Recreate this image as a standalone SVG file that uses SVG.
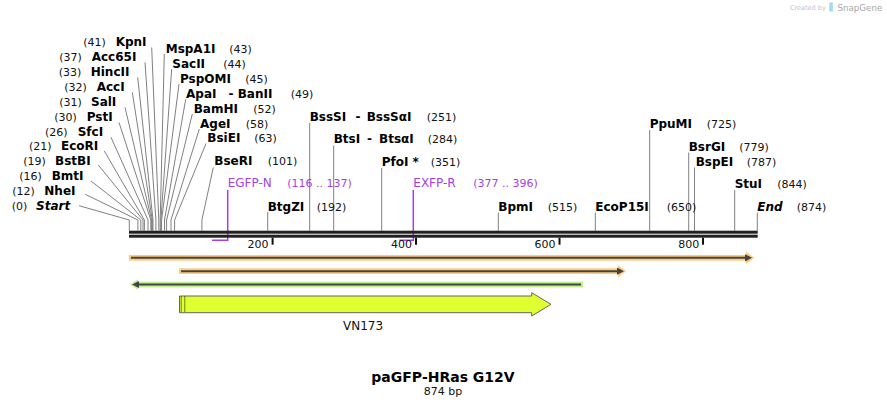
<svg xmlns="http://www.w3.org/2000/svg" width="887" height="407" viewBox="0 0 887 407">
<style>
.en{font-family:"DejaVu Sans",Verdana,sans-serif;font-size:12px;font-weight:bold;fill:#000}
.it{font-style:italic}
.num{font-family:"DejaVu Sans",Verdana,sans-serif;font-size:11px;fill:#111}
.pr{font-family:"DejaVu Sans",Verdana,sans-serif;font-size:12px;fill:#a23fe8}
.prn{font-family:"DejaVu Sans",Verdana,sans-serif;font-size:11px;fill:#a23fe8}
.cut{stroke:#808080;stroke-width:1;fill:none}
.prl{stroke:#a23fe8;stroke-width:1.5;fill:none}
.tick{fill:#111}
.tl{font-family:"DejaVu Sans",Verdana,sans-serif;font-size:11px;fill:#111;text-anchor:end}
.dark{stroke:#444;stroke-width:2;fill:none}
</style>
<rect width="887" height="407" fill="#fff"/>

<g id="watermark">
<text x="790" y="9.5" font-family="DejaVu Sans,sans-serif" font-size="6.5" fill="#c4c4c4">Created by</text>
<path d="M829.3,2.5 h3.5 v9 h-3.5 z" fill="#a6d6f2"/>
<text x="837.5" y="10.5" font-family="DejaVu Sans,sans-serif" font-size="8.7" fill="#a8a8a8">SnapGene</text>
</g>

<g id="connectors">
<path class="cut" d="M151.7,47.5 L158.8,220 V230.7"/>
<path class="cut" d="M145,62.3 L155.9,220 V230.7"/>
<path class="cut" d="M137.7,77.3 L153,220 V230.7"/>
<path class="cut" d="M132.3,92.3 L152.3,220 V230.7"/>
<path class="cut" d="M125,107.3 L151.6,220 V230.7"/>
<path class="cut" d="M119,122.5 L150.8,220 V230.7"/>
<path class="cut" d="M111,137.3 L148,220 V230.7"/>
<path class="cut" d="M104.3,151 L144.4,220 V230.7"/>
<path class="cut" d="M98.3,165 L143,220 V230.7"/>
<path class="cut" d="M91,181 L140.8,220 V230.7"/>
<path class="cut" d="M85.3,194.3 L137.9,220 V230.7"/>
<path class="cut" d="M79,205.7 L129.3,220 V230.7"/>
<path class="cut" d="M164.3,54 L160.2,220 V230.7"/>
<path class="cut" d="M171.7,69 L160.9,220 V230.7"/>
<path class="cut" d="M179,84 L161.6,220 V230.7"/>
<path class="cut" d="M185.7,99.3 L164.5,220 V230.7"/>
<path class="cut" d="M192.3,114 L166.6,220 V230.7"/>
<path class="cut" d="M199.3,129 L171,220 V230.7"/>
<path class="cut" d="M206,143.5 L174.6,220 V230.7"/>
<path class="cut" d="M213.3,167.5 L201.9,220 V230.7"/>
<path class="cut" d="M267.7,212 V230.7"/>
<path class="cut" d="M309.7,123 V230.7"/>
<path class="cut" d="M333.7,145.5 V230.7"/>
<path class="cut" d="M381.7,168 V230.7"/>
<path class="cut" d="M498.3,212.5 V230.7"/>
<path class="cut" d="M595.3,212.5 V230.7"/>
<path class="cut" d="M649.7,130 V230.7"/>
<path class="cut" d="M688.7,152.5 V230.7"/>
<path class="cut" d="M694.5,167.5 V230.7" stroke="#a0a0a0"/>
<path class="cut" d="M734.7,190 V230.7"/>
<path class="cut" d="M757.3,212.5 V230.7"/>
<path class="prl" d="M227.7,190 V240.2 H212"/>
<path class="prl" d="M413.3,190 V240.2 H399.3"/>
</g>

<g id="backbone">
<rect x="129" y="230.7" width="628.7" height="3" fill="#222"/>
<rect x="129" y="234.7" width="628.7" height="3" fill="#222"/>
<rect class="tick" x="271.6" y="237.7" width="2" height="7"/>
<rect class="tick" x="415" y="237.7" width="2" height="7"/>
<rect class="tick" x="558.5" y="237.7" width="2" height="7"/>
<rect class="tick" x="702" y="237.7" width="2" height="7"/>
<text class="tl" x="268.6" y="247.7">200</text>
<text class="tl" x="412" y="247.7">400</text>
<text class="tl" x="555.6" y="247.7">600</text>
<text class="tl" x="699.2" y="247.7">800</text>
</g>

<g id="site-KpnI"><text class="num" x="83.3" y="45.7">(41)</text><text class="en" x="115.7" y="45.7">KpnI</text></g>
<g id="site-Acc65I"><text class="num" x="59.3" y="60.7">(37)</text><text class="en" x="91.7" y="60.7">Acc65I</text></g>
<g id="site-HincII"><text class="num" x="58.7" y="75.7">(33)</text><text class="en" x="90.7" y="75.7">HincII</text></g>
<g id="site-AccI"><text class="num" x="64.3" y="90.7">(32)</text><text class="en" x="96.7" y="90.7">AccI</text></g>
<g id="site-SalI"><text class="num" x="59.3" y="105.7">(31)</text><text class="en" x="91" y="105.7">SalI</text></g>
<g id="site-PstI"><text class="num" x="54.3" y="120.7">(30)</text><text class="en" x="86.7" y="120.7">PstI</text></g>
<g id="site-SfcI"><text class="num" x="45" y="135.7">(26)</text><text class="en" x="77.7" y="135.7">SfcI</text></g>
<g id="site-EcoRI"><text class="num" x="29" y="150.3">(21)</text><text class="en" x="61" y="150.3">EcoRI</text></g>
<g id="site-BstBI"><text class="num" x="23.3" y="165.3">(19)</text><text class="en" x="55" y="165.3">BstBI</text></g>
<g id="site-BmtI"><text class="num" x="19.3" y="180.3">(16)</text><text class="en" x="51.7" y="180.3">BmtI</text></g>
<g id="site-NheI"><text class="num" x="12.3" y="195.3">(12)</text><text class="en" x="44.3" y="195.3">NheI</text></g>
<g id="site-Start"><text class="num" x="11.7" y="210.3">(0)</text><text class="en it" x="36" y="210.3">Start</text></g>

<g id="site-MspA1I"><text class="en" x="165.7" y="52.7">MspA1I</text><text class="num" x="229.3" y="52.7">(43)</text></g>
<g id="site-SacII"><text class="en" x="172.3" y="67.7">SacII</text><text class="num" x="223.3" y="67.7">(44)</text></g>
<g id="site-PspOMI"><text class="en" x="180" y="82.7">PspOMI</text><text class="num" x="245.3" y="82.7">(45)</text></g>
<g id="site-ApaI"><text class="en" x="186" y="97.7">ApaI</text><text class="en" x="228.5" y="97.7">-</text><text class="en" x="237.7" y="97.7">BanII</text><text class="num" x="290.7" y="97.7">(49)</text></g>
<g id="site-BamHI"><text class="en" x="193.7" y="112.7">BamHI</text><text class="num" x="253.3" y="112.7">(52)</text></g>
<g id="site-AgeI"><text class="en" x="200" y="127.7">AgeI</text><text class="num" x="245.7" y="127.7">(58)</text></g>
<g id="site-BsiEI"><text class="en" x="207.3" y="142.3">BsiEI</text><text class="num" x="254.3" y="142.3">(63)</text></g>
<g id="site-BseRI"><text class="en" x="214.3" y="165.3">BseRI</text><text class="num" x="267.7" y="165.3">(101)</text></g>
<g id="site-BtgZI"><text class="en" x="267.7" y="210.7">BtgZI</text><text class="num" x="316.7" y="210.7">(192)</text></g>
<g id="site-BssSI"><text class="en" x="309.7" y="120.7">BssSI</text><text class="en" x="355.5" y="120.7">-</text><text class="en" x="366.7" y="120.7">BssSαI</text><text class="num" x="426.7" y="120.7">(251)</text></g>
<g id="site-BtsI"><text class="en" x="333.7" y="142.7">BtsI</text><text class="en" x="367" y="142.7">-</text><text class="en" x="379" y="142.7">BtsαI</text><text class="num" x="427.7" y="142.7">(284)</text></g>
<g id="site-PfoI"><text class="en" x="381.7" y="165.7">PfoI *</text><text class="num" x="430.7" y="165.7">(351)</text></g>
<g id="site-BpmI"><text class="en" x="498.3" y="210.7">BpmI</text><text class="num" x="547.7" y="210.7">(515)</text></g>
<g id="site-EcoP15I"><text class="en" x="595.3" y="210.7">EcoP15I</text><text class="num" x="666.7" y="210.7">(650)</text></g>
<g id="site-PpuMI"><text class="en" x="649.7" y="127.7">PpuMI</text><text class="num" x="706.7" y="127.7">(725)</text></g>
<g id="site-BsrGI"><text class="en" x="688.7" y="150.7">BsrGI</text><text class="num" x="739.3" y="150.7">(779)</text></g>
<g id="site-BspEI"><text class="en" x="695.7" y="165.7">BspEI</text><text class="num" x="746.7" y="165.7">(787)</text></g>
<g id="site-StuI"><text class="en" x="734.7" y="188">StuI</text><text class="num" x="777.3" y="188">(844)</text></g>
<g id="site-End"><text class="en it" x="757.3" y="210.7">End</text><text class="num" x="796.7" y="210.7">(874)</text></g>

<g id="primer-EGFP-N"><text class="pr" x="227.7" y="187.3">EGFP-N</text><text class="prn" x="287.3" y="187.3">(116 .. 137)</text></g>
<g id="primer-EXFP-R"><text class="pr" x="413.3" y="187.3">EXFP-R</text><text class="prn" x="473.3" y="187.3">(377 .. 396)</text></g>

<g id="feature-1">
<rect x="129" y="255" width="618" height="5.7" fill="#fdc97e"/>
<path d="M746,251.7 L754.3,257.85 L746,264 Z" fill="#fdc97e"/>
<path class="dark" d="M131,257.85 H747"/>
<path d="M745,254.3 L752,257.85 L745,261.4 Z" fill="#444"/>
</g>
<g id="feature-2">
<rect x="179" y="268.3" width="440" height="5.7" fill="#fdc97e"/>
<path d="M618,265 L626,271.15 L618,277.3 Z" fill="#fdc97e"/>
<path class="dark" d="M181,271.15 H619"/>
<path d="M617,267.6 L624,271.15 L617,274.7 Z" fill="#444"/>
</g>
<g id="feature-3">
<rect x="137" y="281.7" width="446" height="5.7" fill="#bdf08c"/>
<path d="M138,279.3 L130,284.55 L138,289.8 Z" fill="#bdf08c"/>
<path class="dark" d="M136,284.55 H581"/>
<path d="M139,281 L132,284.55 L139,288.1 Z" fill="#444"/>
</g>
<g id="feature-VN173">
<path d="M179.5,296 H531.7 V292.7 L551,304.35 L531.7,316 V312.7 H179.5 Z" fill="#e0ff30" stroke="#666" stroke-width="1"/>
<path d="M181.2,296.5 V312.2 M184.8,296.5 V312.2" stroke="#000" stroke-width="1" stroke-dasharray="1,1"/>
<text x="363" y="329.5" text-anchor="middle" font-family="DejaVu Sans,Verdana,sans-serif" font-size="12" fill="#111">VN173</text>
</g>

<g id="title">
<text x="443" y="382" text-anchor="middle" font-family="DejaVu Sans,Verdana,sans-serif" font-size="14" font-weight="bold" fill="#000">paGFP-HRas G12V</text>
<text x="443" y="395" text-anchor="middle" font-family="DejaVu Sans,Verdana,sans-serif" font-size="11" fill="#111">874 bp</text>
</g>
</svg>
